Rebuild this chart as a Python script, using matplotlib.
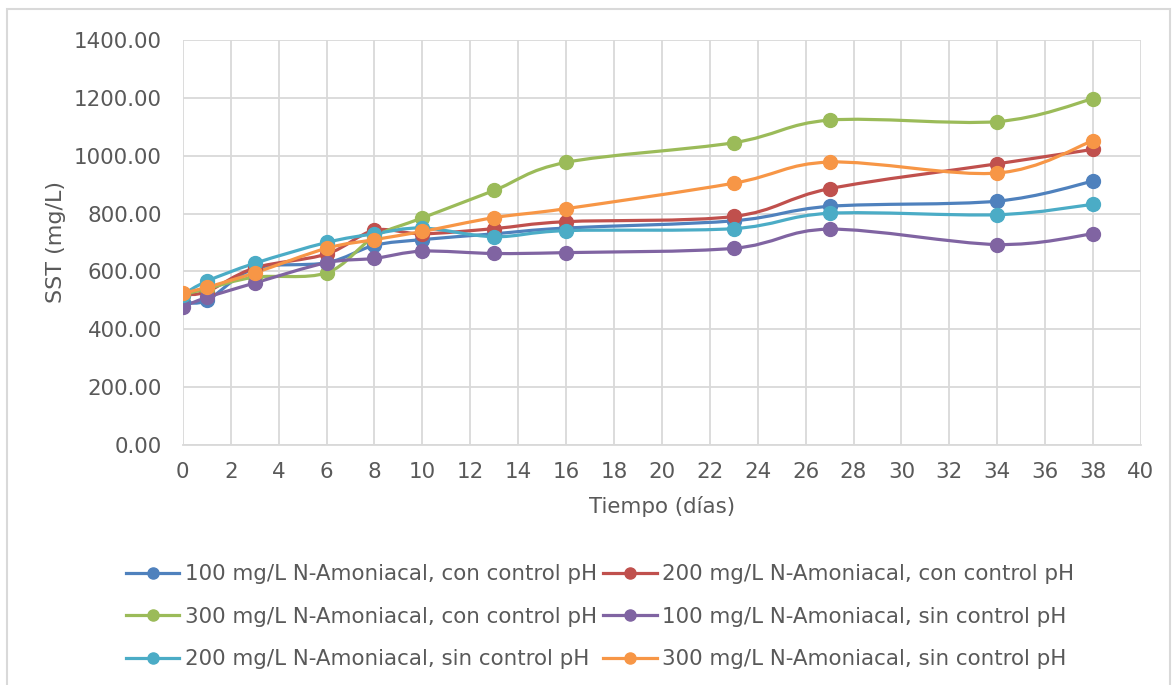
#!/usr/bin/env python3
import numpy as np
import matplotlib as mpl
mpl.use('Agg')
import matplotlib.pyplot as plt
from matplotlib.path import Path
from matplotlib.patches import PathPatch, Rectangle
from matplotlib.lines import Line2D

# ========================================================================
# Data
# ========================================================================
dias = [0, 1, 3, 6, 8, 10, 13, 16, 23, 27, 34, 38]

sst_100_con = [495, 500, 610, 630, 690, 710, 730, 750, 775, 825, 843, 912]
sst_200_con = [520, 530, 612, 660, 742, 730, 748, 772, 790, 886, 972, 1022]
sst_300_con = [520, 540, 580, 595, 720, 785, 880, 977, 1045, 1123, 1118, 1197]
sst_100_sin = [478, 510, 560, 630, 645, 670, 662, 665, 680, 746, 693, 730]
sst_200_sin = [520, 566, 628, 700, 730, 750, 720, 741, 748, 801, 796, 832]
sst_300_sin = [525, 545, 595, 680, 710, 738, 786, 817, 905, 978, 940, 1052]

labels = ['100 mg/L N-Amoniacal, con control pH',
          '200 mg/L N-Amoniacal, con control pH',
          '300 mg/L N-Amoniacal, con control pH',
          '100 mg/L N-Amoniacal, sin control pH',
          '200 mg/L N-Amoniacal, sin control pH',
          '300 mg/L N-Amoniacal, sin control pH']
series = [sst_100_con, sst_200_con, sst_300_con,
          sst_100_sin, sst_200_sin, sst_300_sin]
colors = ['#4F81BD', '#C0504D', '#9BBB59', '#8064A2', '#4BACC6', '#F79646']

text_col = '#595959'
grid_col = '#D9D9D9'
fs = 15.4


def smooth_path(x, y):
    """Excel-like smoothed line as cubic Bezier segments"""
    pts = np.column_stack([x, y]).astype(float)
    n = len(pts)
    verts = [pts[0]]
    codes = [Path.MOVETO]
    for i in range(n - 1):
        p0 = pts[max(i - 1, 0)]
        p1 = pts[i]
        p2 = pts[i + 1]
        p3 = pts[min(i + 2, n - 1)]
        c1 = p1 + (p2 - p0) / 6.0
        c2 = p2 - (p3 - p1) / 6.0
        verts += [c1, c2, p2]
        codes += [Path.CURVE4] * 3
    return Path(verts, codes)


fig = plt.figure(figsize=(11.72, 6.85), dpi=100)
ax = fig.add_axes([0.156, 0.3504, 0.8175, 0.5912])

handles = []
for yv, lab, c in zip(series, labels, colors):
    ax.add_patch(PathPatch(smooth_path(dias, yv), facecolor='none',
                           edgecolor=c, lw=2.3, zorder=3,
                           capstyle='round', joinstyle='round'))
    ax.plot(dias, yv, ls='none', marker='o', ms=10, color=c, zorder=4)
    handles.append(Line2D([], [], color=c, lw=2.3, marker='o', ms=8,
                          label=lab))

ax.set_xlim(0, 40)
ax.set_ylim(0, 1400)
ax.set_xticks(np.arange(0, 41, 2))
ax.set_yticks(np.arange(0, 1401, 200))
ax.set_yticklabels(['%.2f' % v for v in np.arange(0, 1401, 200)])
ax.grid(True, color=grid_col, lw=1.3)
ax.set_axisbelow(True)
for s in ax.spines.values():
    s.set_visible(False)
ax.spines['bottom'].set_visible(True)
ax.spines['bottom'].set_color(grid_col)
ax.spines['bottom'].set_linewidth(1.3)
ax.tick_params(length=0, labelsize=fs, labelcolor=text_col)
ax.tick_params(axis='x', pad=12)
ax.tick_params(axis='y', pad=15)

ax.set_xlabel('Tiempo (días)', fontsize=fs, color=text_col, labelpad=10)
ax.set_ylabel('SST (mg/L)', fontsize=fs + 0.6, color=text_col, labelpad=6)

# legend is filled row by row in the reference
order = [0, 2, 4, 1, 3, 5]
fig.legend(handles=[handles[i] for i in order], loc='upper center',
           bbox_to_anchor=(0.512, 0.189), ncol=2, frameon=False,
           fontsize=fs, labelcolor=text_col, handlelength=2.5,
           handletextpad=0.25, columnspacing=0.3, labelspacing=1.05,
           borderaxespad=0)

fig.add_artist(Rectangle((0.006, -0.01), 0.992, 0.997,
                         transform=fig.transFigure, fill=False,
                         edgecolor=grid_col, lw=1.5))

plt.savefig('out.png', format='png')
